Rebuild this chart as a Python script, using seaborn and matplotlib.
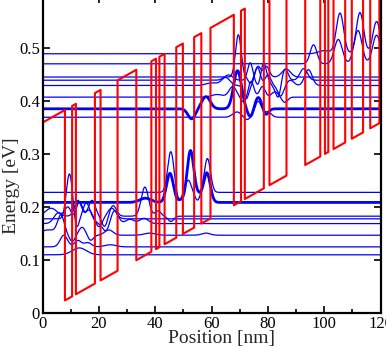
import numpy as np
import pandas as pd
import matplotlib
matplotlib.use("Agg")
import matplotlib.pyplot as plt
from matplotlib.ticker import MultipleLocator, FixedLocator, FuncFormatter
import seaborn as sns

# ---- layer structure of one period (nm), starting with the first well after the thick barrier
layer_kind = ["w", "b", "w", "b", "w", "b", "w", "b", "w", "b", "w", "b", "w", "b", "w", "b"]
layer_thick = [2.55, 1.35, 6.75, 2.0, 6.05, 6.65, 5.35, 1.65, 1.2, 1.85, 4.15, 2.35, 4.0, 2.55, 3.25, 8.3]
first_well_start = 7.9          # nm, end of the leading barrier
n_periods = 2
barrier_height = 0.36           # eV
field_slope = 0.003             # eV/nm
band_offset = 0.0               # eV

# ---- subband energies (eV) and |psi|^2 peak positions / heights / widths (nm, eV, nm)
state_energy = [0.110, 0.125, 0.147, 0.169, 0.178, 0.183, 0.209, 0.228,
                0.370, 0.386, 0.408, 0.430, 0.440, 0.446, 0.471, 0.490]
state_thick = [False, False, False, False, False, False, True, False,
               False, True, False, False, False, False, False, False]
peak_pos = [
    [13.0],
    [7.5, 12.5, 16.0, 24.0],
    [2.0, 6.5, 10.5, 14.0, 17.0, 23.5, 38.0, 58.0],
    [5.5, 9.0, 13.0, 16.5, 22.5, 25.5, 31.0, 36.0],
    [9.5, 12.0, 15.5, 20.0, 24.5],
    [3.0, 12.5, 17.5, 22.0, 25.0, 36.3, 41.0, 45.5],
    [36.5, 45.2, 49.0, 52.5, 55.3, 58.3],
    [45.5, 48.5, 51.7, 55.0, 58.5],
    [69.0, 72.5, 76.5, 80.0],
    [52.9, 58.0, 69.2, 73.8, 76.6, 79.2],
    [62.0, 67.5, 71.5, 74.0, 78.0, 82.5, 86.0],
    [60.0, 65.0, 72.3, 76.3, 80.0, 84.5, 88.0, 94.4],
    [66.0, 73.7, 76.5, 78.5, 82.0, 83.7, 86.1, 92.7],
    [69.5, 73.8, 76.5, 79.5, 86.5],
    [96.2, 105.0, 112.0, 118.6],
    [100.0, 105.6, 112.7, 118.6],
]
peak_amp = [
    [0.013],
    [0.022, 0.012, 0.008, 0.004],
    [0.010, 0.035, -0.012, 0.015, -0.010, 0.010, 0.004, 0.004],
    [0.020, 0.030, 0.040, 0.025, -0.015, 0.025, 0.008, 0.010],
    [0.085, -0.020, 0.030, -0.015, 0.020],
    [0.015, 0.030, 0.030, -0.020, 0.020, 0.055, 0.010, -0.010],
    [0.008, 0.055, 0.004, 0.098, 0.012, 0.056],
    [0.077, -0.015, 0.023, -0.015, 0.064],
    [0.010, -0.005, 0.030, 0.010],
    [-0.019, 0.023, 0.072, -0.016, 0.022, -0.012],
    [0.005, 0.020, -0.010, 0.030, 0.020, 0.010, -0.010],
    [0.005, 0.015, -0.025, 0.034, 0.020, -0.020, 0.010, 0.030],
    [0.010, 0.033, -0.010, 0.033, -0.010, -0.030, 0.022, 0.022],
    [0.080, -0.012, 0.020, 0.020, 0.015],
    [0.036, 0.046, 0.063, 0.054],
    [0.006, 0.077, 0.078, 0.061],
]
peak_width = [
    [2.5],
    [1.3, 1.2, 1.3, 2.0],
    [3.0, 1.2, 1.0, 1.2, 1.0, 1.5, 2.0, 1.5],
    [1.5, 1.2, 1.2, 1.3, 1.2, 1.3, 1.5, 1.5],
    [1.1, 0.8, 1.2, 1.0, 1.5],
    [2.0, 1.2, 1.2, 1.0, 1.2, 1.3, 1.0, 1.0],
    [2.0, 1.2, 1.0, 1.2, 1.0, 1.2],
    [1.1, 0.9, 1.0, 0.9, 1.1],
    [1.5, 1.0, 1.2, 1.2],
    [1.3, 1.5, 1.4, 1.0, 1.2, 1.0],
    [2.0, 1.3, 1.0, 1.0, 1.0, 1.2, 1.0],
    [2.0, 1.5, 0.9, 1.0, 1.0, 1.0, 1.2, 1.3],
    [1.5, 0.9, 0.8, 0.9, 1.0, 0.9, 1.0, 1.3],
    [1.0, 0.8, 1.0, 1.0, 1.5],
    [1.2, 1.4, 1.4, 1.4],
    [2.0, 1.3, 1.3, 1.3],
]

x_min, x_max = 0.0, 120.0
energy_ticks = [0.0, 0.1, 0.2, 0.3, 0.4, 0.5]

# ---- figure
sns.set_style("ticks")
plt.rcParams["font.family"] = ["Liberation Serif", "DejaVu Serif"]

fig = plt.figure(figsize=(3.86, 3.48), dpi=100)
ax = fig.add_axes([0.1106, 0.1006, 0.8752, 0.9121])

# wavefunctions drawn on top of their subband energy
xs = np.linspace(x_min, x_max, 3000)
for E, thick, cs, amps, ws in zip(state_energy, state_thick, peak_pos, peak_amp, peak_width):
    y = np.full_like(xs, E)
    for c, a, w in zip(cs, amps, ws):
        y += a * np.exp(-0.5 * ((xs - c) / w) ** 2)
    df = pd.DataFrame({"pos": xs, "energy": y})
    sns.lineplot(data=df, x="pos", y="energy", ax=ax, color="#0000ff",
                 lw=2.0 if thick else 0.9, sort=False, estimator=None)

# conduction band edge under the applied field
bounds = [x_min, first_well_start]
kinds = ["b"]
p = first_well_start
for _ in range(n_periods):
    for k, t in zip(layer_kind, layer_thick):
        kinds.append(k)
        bounds.append(p + t)
        p += t
bx, by = [], []
for i, k in enumerate(kinds):
    a, b = bounds[i], min(bounds[i + 1], x_max + 2)
    v = barrier_height if k == "b" else 0.0
    bx += [a, b]
    by += [band_offset + field_slope * a + v, band_offset + field_slope * b + v]
    if b >= x_max:
        break
cb = pd.DataFrame({"pos": bx, "energy": by})
sns.lineplot(data=cb, x="pos", y="energy", ax=ax, color="#ff0000", lw=1.5,
             sort=False, estimator=None)

ax.set_xlim(x_min, x_max)
ax.set_ylim(0, 0.6)
ax.set_xlabel("Position [nm]", fontsize=14, labelpad=0)
ax.set_ylabel("Energy [eV]", fontsize=14, labelpad=2)
ax.xaxis.set_label_coords(0.528, -0.055)
ax.yaxis.set_label_coords(-0.068, 0.40)
ax.xaxis.set_major_locator(MultipleLocator(20))
ax.xaxis.set_minor_locator(MultipleLocator(10))
ax.yaxis.set_major_locator(FixedLocator(energy_ticks))
ax.yaxis.set_major_formatter(FuncFormatter(lambda v, _: "0" if abs(v) < 1e-9 else f"{v:.1f}"))
ax.tick_params(which="both", direction="in", top=True, right=True, labelsize=12,
               colors="black", width=1.2)
ax.tick_params(which="major", length=5, pad=2)
ax.tick_params(which="minor", length=3)
for s in ax.spines.values():
    s.set_linewidth(1.6)
    s.set_color("black")

fig.savefig("out.png", dpi=100)
